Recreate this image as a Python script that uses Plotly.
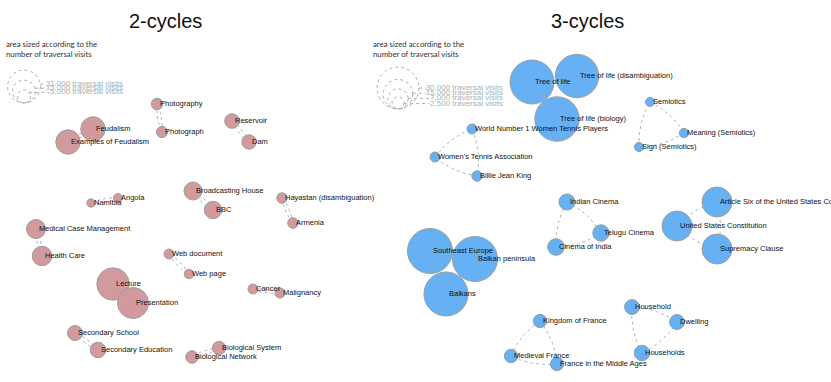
import numpy as np
import plotly.graph_objects as go

# ---------------- data ----------------
# 2-cycles panel: node names, layout positions (px), traversal visits
left_names = ["Photography", "Photograph", "Feudalism", "Examples of Feudalism", "Reservoir", "Dam",
              "Namibia", "Angola", "Broadcasting House", "BBC", "Hayastan (disambiguation)", "Armenia",
              "Medical Case Management", "Health Care", "Web document", "Web page", "Lecture", "Presentation",
              "Cancer", "Malignancy", "Secondary School", "Secondary Education", "Biological System",
              "Biological Network"]
left_x = [157, 162, 93, 68, 232, 249, 91, 118, 193, 213, 282, 293, 36, 42, 169, 189, 113, 133,
          253, 280, 75, 98, 219, 192]
left_y = [104, 132, 129, 142, 121, 142, 203, 198, 191, 210, 198, 223, 229, 256, 254, 274, 284, 303,
          289, 293, 333, 350, 348, 357]
left_visits = [3800, 3500, 17000, 17000, 6100, 5900, 2000, 2300, 9200, 8600, 3100, 3200,
               10300, 10900, 2850, 2600, 29800, 27400, 2850, 2850, 6400, 6900, 5100, 4500]
left_cycles = [("Photography", "Photograph"), ("Feudalism", "Examples of Feudalism"), ("Reservoir", "Dam"),
               ("Namibia", "Angola"), ("Broadcasting House", "BBC"), ("Hayastan (disambiguation)", "Armenia"),
               ("Medical Case Management", "Health Care"), ("Web document", "Web page"),
               ("Lecture", "Presentation"), ("Cancer", "Malignancy"),
               ("Secondary School", "Secondary Education"), ("Biological System", "Biological Network")]
left_legend_visits = [31000, 15000, 5000]
left_legend_labels = ["31,000 traversal visits", "15,000 traversal visits", "5,000 traversal visits"]

# 3-cycles panel
right_names = ["Tree of life", "Tree of life (disambiguation)", "Tree of life (biology)", "Semiotics",
               "Meaning (Semiotics)", "Sign (Semiotics)", "World Number 1 Women Tennis Players",
               "Women's Tennis Association", "Billie Jean King", "Southeast Europe", "Balkan peninsula",
               "Balkans", "Indian Cinema", "Telugu Cinema", "Cinema of India", "United States Constitution",
               "Article Six of the United States Constitution", "Supremacy Clause", "Kingdom of France",
               "Medieval France", "France in the Middle Ages", "Household", "Dwelling", "Households"]
right_x = [532, 577, 557, 650, 684, 639, 472, 435, 477, 430, 475, 446, 567, 601, 556, 677, 717, 717,
           540, 511, 557, 632, 677, 642]
right_y = [82, 76, 119, 102, 133, 147, 129, 157, 176, 251, 259, 294, 202, 233, 247, 226, 202, 249,
           321, 356, 364, 307, 322, 353]
right_visits = [33000, 32000, 33500, 1400, 1500, 1400, 1700, 1700, 1850, 34500, 34500, 33000,
                4350, 4600, 4700, 15300, 15300, 15300, 3050, 3050, 3050, 3800, 3800, 4100]
right_cycles = [("Tree of life", "Tree of life (disambiguation)", "Tree of life (biology)"),
                ("Semiotics", "Meaning (Semiotics)", "Sign (Semiotics)"),
                ("World Number 1 Women Tennis Players", "Billie Jean King", "Women's Tennis Association"),
                ("Southeast Europe", "Balkan peninsula", "Balkans"),
                ("Indian Cinema", "Telugu Cinema", "Cinema of India"),
                ("United States Constitution", "Article Six of the United States Constitution", "Supremacy Clause"),
                ("Kingdom of France", "France in the Middle Ages", "Medieval France"),
                ("Household", "Dwelling", "Households")]
right_legend_visits = [30000, 15000, 7000, 2500]
right_legend_labels = ["30,000 traversal visits", "15,000 traversal visits", "7,000 traversal visits",
                       "2,500 traversal visits"]

panel_titles = ["2-cycles", "3-cycles"]
note_text = "area sized according to the<br>number of traversal visits"

# ---------------- styling ----------------
W, H = 831, 382
LEFT_K = 16.5 / np.sqrt(31000)   # px radius per sqrt(visit)
RIGHT_K = 21.0 / np.sqrt(30000)
LEFT_FILL = "#d29a9c"
RIGHT_FILL = "#66b0f4"
NODE_EDGE = "#9a9f9f"
EDGE_COL = "#aab6b6"
LEG_COL = "#a9b2b2"
LABEL_DX = 3
LABEL_FONT = dict(family="Liberation Sans, Arial, sans-serif", size=7.5, color="#111111")

fig = go.Figure()


def curve(p0, p1, bend, n=30):
    p0 = np.array(p0, float); p1 = np.array(p1, float)
    mid = (p0 + p1) / 2
    d = p1 - p0
    perp = np.array([-d[1], d[0]])
    ctrl = mid + perp * bend
    t = np.linspace(0, 1, n)[:, None]
    pts = (1 - t) ** 2 * p0 + 2 * (1 - t) * t * ctrl + t ** 2 * p1
    return pts


def edges_for(names, xs, ys, cycles):
    pos = {n: (x, y) for n, x, y in zip(names, xs, ys)}
    ex, ey = [], []
    for cyc in cycles:
        pts = [pos[n] for n in cyc]
        if len(cyc) == 2:
            for a, b in [(0, 1), (1, 0)]:
                c = curve(pts[a], pts[b], 0.14)
                ex += list(c[:, 0]) + [None]; ey += list(c[:, 1]) + [None]
        else:
            cen = np.mean(np.array(pts, float), axis=0)
            for i in range(len(cyc)):
                a, b = pts[i], pts[(i + 1) % len(cyc)]
                mid = (np.array(a) + np.array(b)) / 2
                d = np.array(b, float) - np.array(a, float)
                perp = np.array([-d[1], d[0]])
                sgn = 1 if np.dot(perp, mid - cen) > 0 else -1
                c = curve(a, b, 0.15 * sgn)
                ex += list(c[:, 0]) + [None]; ey += list(c[:, 1]) + [None]
    return ex, ey


def add_panel(names, xs, ys, visits, cycles, k, fill):
    ex, ey = edges_for(names, xs, ys, cycles)
    fig.add_trace(go.Scatter(x=ex, y=ey, mode="lines", hoverinfo="skip",
                             line=dict(color=EDGE_COL, width=1, dash="dot")))
    sizes = [2 * k * np.sqrt(v) for v in visits]
    fig.add_trace(go.Scatter(x=xs, y=ys, mode="markers", text=names, hoverinfo="text",
                             marker=dict(size=sizes, sizemode="diameter", color=fill, opacity=1,
                                         line=dict(color=NODE_EDGE, width=1))))
    fig.add_trace(go.Scatter(x=[x + LABEL_DX for x in xs], y=ys, mode="text", text=names,
                             textposition="middle right",
                             textfont=LABEL_FONT, hoverinfo="skip", cliponaxis=False))


def add_legend(cx, base_y, values, labels, k, text_right, text_y0, dy):
    for i, (v, lab) in enumerate(zip(values, labels)):
        r = k * np.sqrt(v)
        cy = base_y - r
        th = np.linspace(0, 2 * np.pi, 120)
        fig.add_trace(go.Scatter(x=cx + r * np.cos(th), y=cy + r * np.sin(th), mode="lines",
                                 hoverinfo="skip", line=dict(color=LEG_COL, width=1, dash="dot")))
        ty = text_y0 + i * dy
        # leader from circle to label
        ang = np.arcsin(np.clip((cy - ty) / r, -1, 1))
        sx = cx + r * np.cos(ang)
        sy = cy - r * np.sin(ang)
        tx = text_right - (len(lab) * 3.3)
        fig.add_trace(go.Scatter(x=[sx, tx - 1], y=[sy, ty], mode="lines", hoverinfo="skip",
                                 line=dict(color=LEG_COL, width=1, dash="dot")))
        fig.add_trace(go.Scatter(x=[text_right], y=[ty], mode="text", text=[lab],
                                 textposition="middle left", hoverinfo="skip", cliponaxis=False,
                                 textfont=dict(family="Liberation Sans, Arial, sans-serif", size=8,
                                               color=LEG_COL)))


add_panel(left_names, left_x, left_y, left_visits, left_cycles, LEFT_K, LEFT_FILL)
add_panel(right_names, right_x, right_y, right_visits, right_cycles, RIGHT_K, RIGHT_FILL)
add_legend(24, 103, left_legend_visits, left_legend_labels, LEFT_K, 123, 84, 4.2)
add_legend(398, 109, right_legend_visits, right_legend_labels, RIGHT_K, 503, 88, 5.2)

for tx, title in zip([165, 587], panel_titles):
    fig.add_annotation(x=tx, y=21, text=title, showarrow=False, xanchor="center", yanchor="middle",
                       font=dict(family="Liberation Sans, Arial, sans-serif", size=20, color="#111"))
for nx in [4, 371]:
    fig.add_annotation(x=nx, y=49, text=note_text, showarrow=False, xanchor="left", yanchor="middle",
                       align="left", font=dict(family="Lato, sans-serif", size=7.8, color="#333"))

fig.update_layout(width=W, height=H, margin=dict(l=0, r=0, t=0, b=0), showlegend=False,
                  plot_bgcolor="white", paper_bgcolor="white",
                  xaxis=dict(range=[0, W], visible=False, fixedrange=True),
                  yaxis=dict(range=[H, 0], visible=False, fixedrange=True))
fig.write_html("out.html", config={"displayModeBar": False},
               post_script="document.body.style.margin='0';document.body.style.overflow='hidden';")
